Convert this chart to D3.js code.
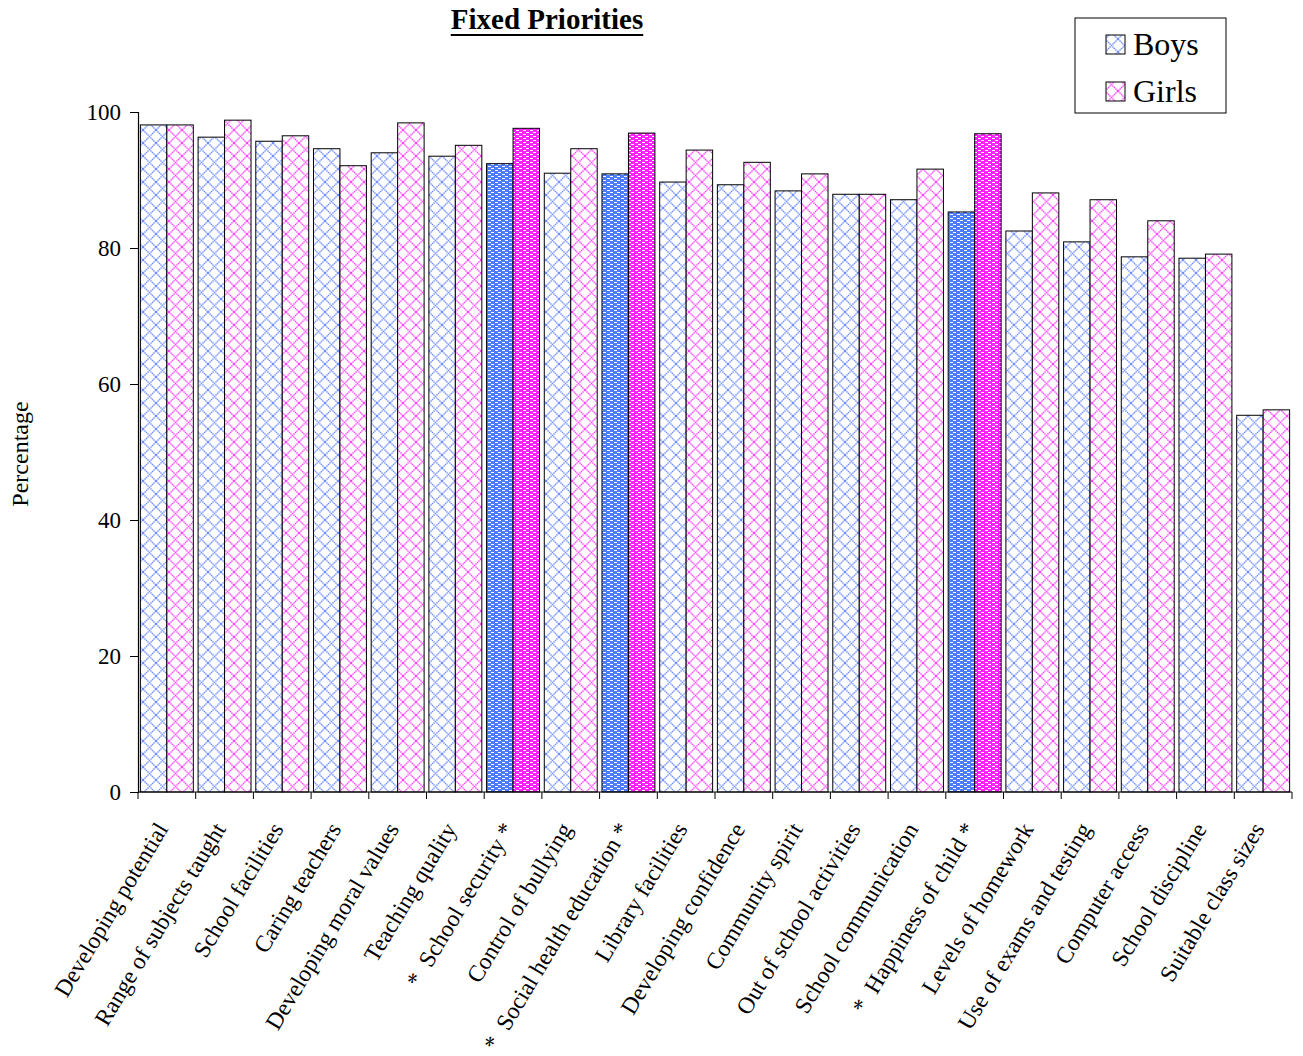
<!DOCTYPE html>
<html>
<head>
<meta charset="utf-8">
<script src="https://cdn.jsdelivr.net/npm/d3@7"></script>
<style>
  html, body { margin: 0; padding: 0; background: #fff; }
  svg { display: block; }
  text { font-family: "Liberation Serif", "Times New Roman", serif; }
</style>
</head>
<body>
<svg id="chart" width="1303" height="1056"></svg>
<script>
const categories = [
  "Developing potential", "Range of subjects taught", "School facilities", "Caring teachers",
  "Developing moral values", "Teaching quality", "School security", "Control of bullying",
  "Social health education", "Library facilities", "Developing confidence", "Community spirit",
  "Out of school activities", "School communication", "Happiness of child", "Levels of homework",
  "Use of exams and testing", "Computer access", "School discipline", "Suitable class sizes"
];
const significant = [false, false, false, false, false, false, true, false, true, false,
                     false, false, false, false, true, false, false, false, false, false];
const boys  = [98.1, 96.3, 95.7, 94.6, 94.0, 93.5, 92.4, 91.0, 90.9, 89.7,
               89.3, 88.4, 87.9, 87.1, 85.3, 82.5, 80.9, 78.7, 78.5, 55.4];
const girls = [98.1, 98.8, 96.5, 92.1, 98.4, 95.1, 97.6, 94.6, 96.9, 94.4,
               92.6, 90.9, 87.9, 91.6, 96.8, 88.1, 87.1, 84.0, 79.1, 56.2];
const series = ["Boys", "Girls"];
const yTicks = [0, 20, 40, 60, 80, 100];

const svg = d3.select("#chart");
const plotL = 138, plotR = 1292, plotT = 112, plotB = 792;

// patterns
const defs = svg.append("defs");
function lattice(id, color) {
  const p = defs.append("pattern").attr("id", id).attr("patternUnits", "userSpaceOnUse")
    .attr("width", 13).attr("height", 13);
  p.append("rect").attr("width", 13).attr("height", 13).attr("fill", "#fff");
  p.append("path").attr("d", "M0,0L13,13M13,0L0,13M-1,12L1,14M12,-1L14,1")
    .attr("stroke", color).attr("stroke-width", 1.4).attr("stroke-dasharray", "1.5,0.6").attr("fill", "none");
}
function bricks(id, color) {
  const p = defs.append("pattern").attr("id", id).attr("patternUnits", "userSpaceOnUse")
    .attr("width", 7).attr("height", 4);
  p.append("rect").attr("width", 7).attr("height", 4).attr("fill", color);
  const dashes = [[1, 0, 3], [5, 2, 2], [0, 2, 1]];
  dashes.forEach(([dx, dy, w]) => {
    p.append("rect").attr("x", dx).attr("y", dy).attr("width", w).attr("height", 1)
      .attr("fill", "#fff").attr("shape-rendering", "crispEdges");
  });
}
lattice("latBoys", "#6f8fff");
lattice("latGirls", "#ff44ff");
bricks("brkBoys", "#4d7cff");
bricks("brkGirls", "#ff1fff");

const x0 = d3.scaleBand().domain(categories).range([plotL, plotR]).paddingInner(0).paddingOuter(0);
const x1 = d3.scaleBand().domain(series).range([0, x0.bandwidth()]).paddingOuter(0.09).paddingInner(0);
const y = d3.scaleLinear().domain([0, 100]).range([plotB, plotT]);

// bars
const g = svg.append("g");
categories.forEach((c, i) => {
  const vals = [boys[i], girls[i]];
  vals.forEach((v, j) => {
    const s = series[j];
    const fill = significant[i] ? (j === 0 ? "url(#brkBoys)" : "url(#brkGirls)")
                                : (j === 0 ? "url(#latBoys)" : "url(#latGirls)");
    g.append("rect")
      .attr("x", x0(c) + x1(s))
      .attr("y", y(v))
      .attr("width", x1.bandwidth())
      .attr("height", y(0) - y(v))
      .attr("fill", fill)
      .attr("stroke", "#000")
      .attr("stroke-width", 1);
  });
});

// y axis
const yAxis = d3.axisLeft(y).tickValues(yTicks).tickSize(8).tickPadding(9);
const ya = svg.append("g").attr("transform", `translate(${plotL},0)`).call(yAxis);
ya.select(".domain").attr("stroke", "#000").attr("stroke-width", 1.2);
ya.selectAll(".tick line").attr("stroke", "#000");
ya.selectAll(".tick text").attr("font-size", 23).attr("fill", "#000")
  .style("font-family", "'Liberation Serif', serif");

// x axis line and ticks at category boundaries
const xa = svg.append("g");
xa.append("line").attr("x1", plotL).attr("x2", plotR).attr("y1", plotB).attr("y2", plotB)
  .attr("stroke", "#000").attr("stroke-width", 1.2);
const bounds = categories.map(c => x0(c)).concat([x0(categories[categories.length - 1]) + x0.bandwidth()]);
xa.selectAll("line.tk").data(bounds).enter().append("line").attr("class", "tk")
  .attr("x1", d => d).attr("x2", d => d).attr("y1", plotB).attr("y2", plotB + 7)
  .attr("stroke", "#000");

// x labels
const ang = -59;
categories.forEach((c, i) => {
  const cx = x0(c) + x0.bandwidth() / 2;
  const t = svg.append("text")
    .attr("transform", `translate(${cx + 2},${plotB + 37}) rotate(${ang})`)
    .attr("text-anchor", "end")
    .attr("font-size", 23.5)
    .attr("fill", "#000")
    .attr("xml:space", "preserve")
    .style("white-space", "pre");
  t.text(significant[i] ? "*  " + c + " *" : c);
});

// y axis title
svg.append("text")
  .attr("transform", `translate(28,454) rotate(-90)`)
  .attr("text-anchor", "middle")
  .attr("font-size", 24)
  .attr("fill", "#000")
  .text("Percentage");

// title
const title = svg.append("text")
  .attr("x", 547).attr("y", 29)
  .attr("text-anchor", "middle")
  .attr("font-size", 29)
  .attr("font-weight", "bold")
  .attr("fill", "#000")
  .text("Fixed Priorities");
const tb = title.node().getBBox();
svg.append("line").attr("x1", tb.x).attr("x2", tb.x + tb.width)
  .attr("y1", 35).attr("y2", 35).attr("stroke", "#000").attr("stroke-width", 2.2);

// legend
const lg = svg.append("g");
lg.append("rect").attr("x", 1075).attr("y", 18).attr("width", 151).attr("height", 95)
  .attr("fill", "#fff").attr("stroke", "#000").attr("stroke-width", 1);
const legFills = ["url(#latBoys)", "url(#latGirls)"];
series.forEach((s, j) => {
  const yy = 44 + j * 47;
  lg.append("rect").attr("x", 1106).attr("y", yy - 9).attr("width", 19).attr("height", 19)
    .attr("fill", legFills[j]).attr("stroke", "#000");
  lg.append("text").attr("x", 1133).attr("y", yy + 11).attr("font-size", 32)
    .attr("fill", "#000").text(s);
});
</script>
</body>
</html>
